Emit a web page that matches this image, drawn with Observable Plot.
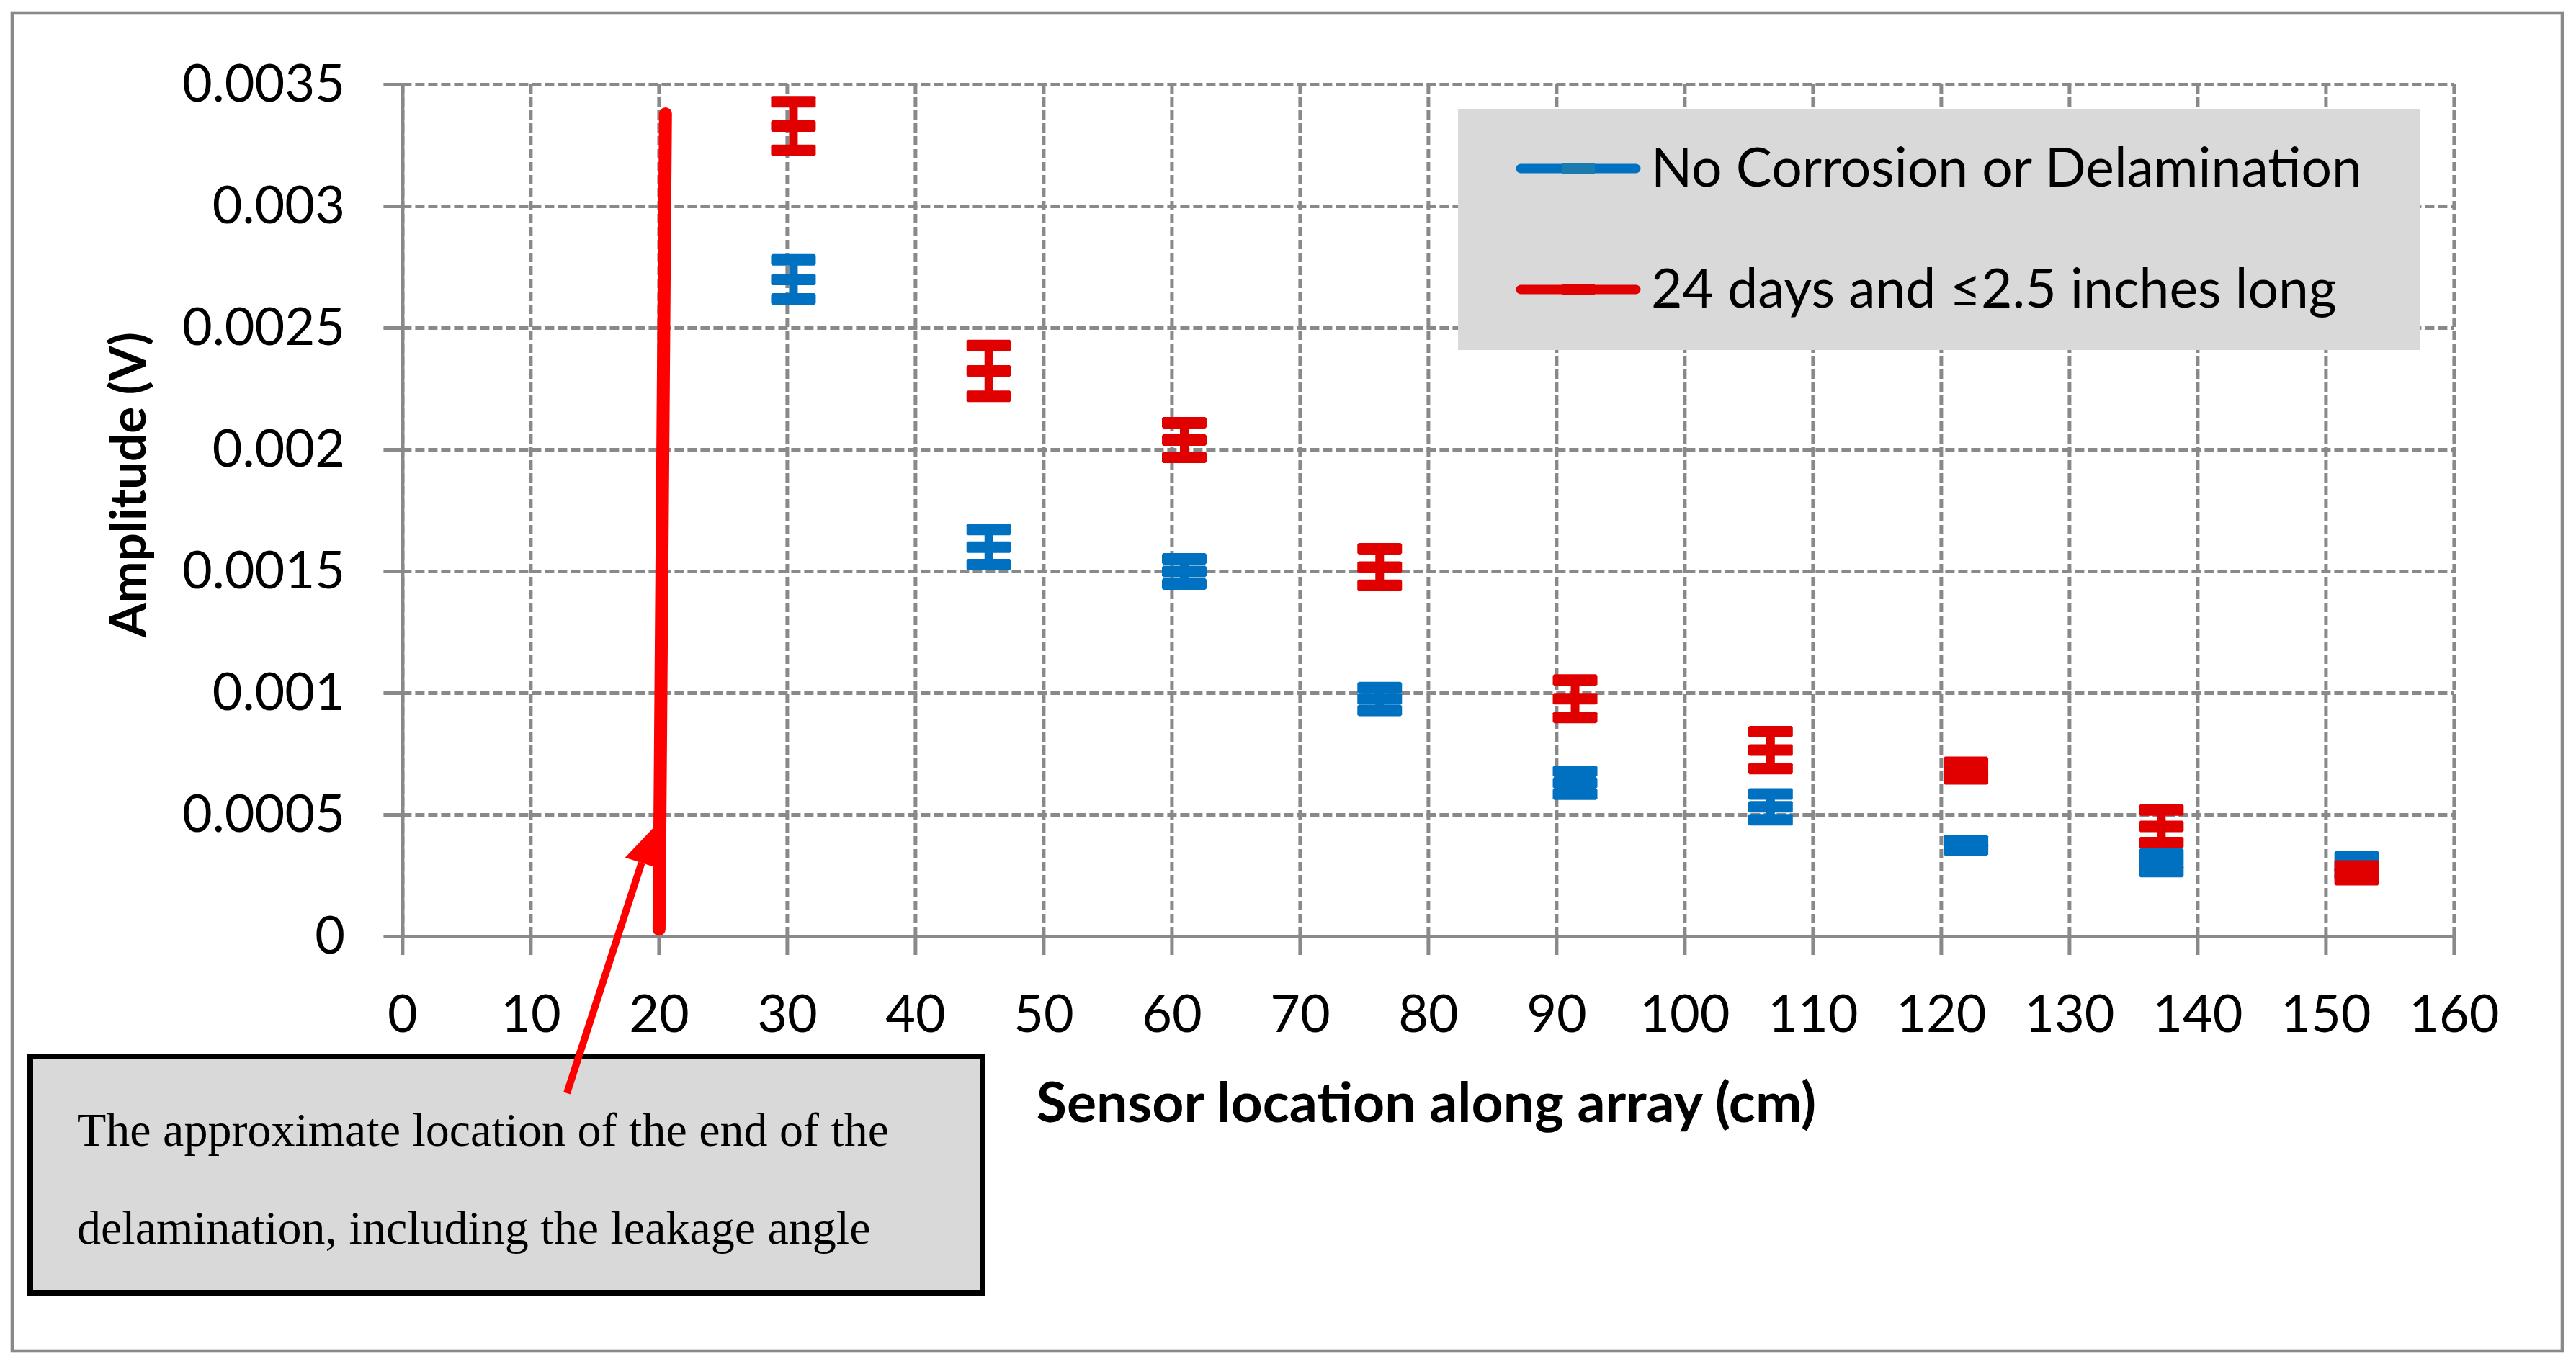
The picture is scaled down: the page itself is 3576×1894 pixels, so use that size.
<!DOCTYPE html>
<html>
<head>
<meta charset="utf-8">
<script src="https://cdn.jsdelivr.net/npm/d3@7"></script>
<script src="https://cdn.jsdelivr.net/npm/@observablehq/plot@0.6"></script>
<style>
html, body { margin: 0; padding: 0; background: #fff; overflow: hidden; }
#chart svg { display: block; }
</style>
</head>
<body>
<div id="chart"></div>
<script>
// ---- data ----
const sensorCm = [30.48, 45.72, 60.96, 76.2, 91.44, 106.68, 121.92, 137.16, 152.4];
const noCorrosion    = [0.00270, 0.00160, 0.00150, 0.000976, 0.000632, 0.000533, 0.000375, 0.000303, 0.000293];
const noCorrosionErr = [0.00008, 0.000072, 0.000052, 0.000047, 0.000047, 0.000053, 0.000019, 0.000036, 0.000035];
const delam24        = [0.00333, 0.002324, 0.00204, 0.001518, 0.000977, 0.000766, 0.000682, 0.000453, 0.000262];
const delam24Err     = [0.0001, 0.000104, 0.000071, 0.000075, 0.000077, 0.000076, 0.000034, 0.000067, 0.000028];
const seriesNames = ["No Corrosion or Delamination", "24 days and \u22642.5 inches long"];
const seriesColors = ["#0070C0", "#E00000"];
const xTicks = [0, 10, 20, 30, 40, 50, 60, 70, 80, 90, 100, 110, 120, 130, 140, 150, 160];
const yTicks = [0, 0.0005, 0.001, 0.0015, 0.002, 0.0025, 0.003, 0.0035];
const xLabel = "Sensor location along array (cm)";
const yLabel = "Amplitude (V)";
const annotationLines = ["The approximate location of the end of the", "delamination, including the leakage angle"];
const boundaryX = [20.5, 20.0];
const boundaryY = [0.00338, 0.00003];
const arrowX = [12.84, 19.53];
const arrowY = [-0.000645, 0.000442];

// ---- build rows ----
function rows(vals, errs, s) {
  return sensorCm.map((x, i) => ({x, y: vals[i], lo: vals[i] - errs[i], hi: vals[i] + errs[i], s}));
}
const blueRows = rows(noCorrosion, noCorrosionErr, 0);
const redRows = rows(delam24, delam24Err, 1);
const boundary = boundaryX.map((x, i) => ({x, y: boundaryY[i]}));

// dash-shaped marker (Excel "dash" marker / error-bar cap)
const dash = {
  draw(ctx) {
    const w = 31, h = 8, r = 2;
    ctx.moveTo(-w + r, -h); ctx.lineTo(w - r, -h); ctx.lineTo(w, -h + r); ctx.lineTo(w, h - r);
    ctx.lineTo(w - r, h); ctx.lineTo(-w + r, h); ctx.lineTo(-w, h - r); ctx.lineTo(-w, -h + r); ctx.closePath();
  }
};

const gridStyle = {stroke: "#898989", strokeOpacity: 1, strokeWidth: 5, strokeDasharray: "13,5"};

function seriesMarks(data, color) {
  return [
    Plot.ruleX(data, {x: "x", y1: "lo", y2: "hi", stroke: color, strokeWidth: 12}),
    Plot.dot(data, {x: "x", y: "lo", symbol: dash, fill: color, stroke: null}),
    Plot.dot(data, {x: "x", y: "hi", symbol: dash, fill: color, stroke: null}),
    Plot.dot(data, {x: "x", y: "y", symbol: dash, fill: color, stroke: null})
  ];
}

const W = 3576, H = 1894;
const plot = Plot.plot({
  width: W,
  height: H,
  marginLeft: 558.4,
  marginRight: W - 3406.4,
  marginTop: 117,
  marginBottom: H - 1300,
  x: {domain: [0, 160]},
  y: {domain: [0, 0.0035]},
  style: {fontFamily: "Lato, sans-serif", fontSize: "72px", background: "white", color: "black", overflow: "visible"},
  marks: [
    Plot.gridY(yTicks, gridStyle),
    Plot.gridX(xTicks, gridStyle),
    Plot.ruleY([0], {stroke: "#898989", strokeWidth: 5}),
    Plot.ruleX([0], {stroke: "#898989", strokeWidth: 5}),
    Plot.axisY(yTicks, {tickSize: 26, tickPadding: 54, stroke: "#898989", strokeWidth: 5, fill: "black",
      tickFormat: d => String(d), fontSize: 72, label: null}),
    Plot.axisX(xTicks, {tickSize: 26, tickPadding: 55, stroke: "#898989", strokeWidth: 5, fill: "black",
      tickFormat: d => String(d), fontSize: 72, label: null}),
    Plot.line(boundary, {x: "x", y: "y", stroke: "#FF0000", strokeWidth: 18}),
    ...seriesMarks(blueRows, seriesColors[0]),
    ...seriesMarks(redRows, seriesColors[1])
  ]
});

document.getElementById("chart").appendChild(plot);

// ---- overlay: frame, legend, axis titles, annotation ----
const sx = plot.scale("x"), sy = plot.scale("y");
const X = d3.scaleLinear(sx.domain, sx.range);
const Y = d3.scaleLinear(sy.domain, sy.range);
const svg = d3.select(plot);

svg.append("rect").attr("x", 17).attr("y", 18).attr("width", 3540).attr("height", 1858)
  .attr("fill", "none").attr("stroke", "#898989").attr("stroke-width", 4.6);

// legend
const lg = svg.append("g").attr("text-anchor", "start");
lg.append("rect").attr("x", 2024).attr("y", 151).attr("width", 1336).attr("height", 335).attr("fill", "#D9D9D9");
[234, 402].forEach((cy, i) => {
  lg.append("line").attr("x1", 2111).attr("x2", 2271).attr("y1", cy).attr("y2", cy)
    .attr("stroke", seriesColors[i]).attr("stroke-width", 13).attr("stroke-linecap", "round");
  lg.append("rect").attr("x", 2168).attr("y", cy - 7).attr("width", 46).attr("height", 14)
    .attr("fill", i === 0 ? "#1B7AAE" : seriesColors[i]);
  lg.append("text").attr("x", 2292).attr("y", cy + 25).attr("text-anchor", "start").text(seriesNames[i])
    .attr("font-family", "Lato, sans-serif").attr("font-size", 75).attr("fill", "black");
});

// axis titles
svg.append("text").attr("x", 1980).attr("y", 1558).attr("text-anchor", "middle")
  .attr("font-family", "Lato, sans-serif").attr("font-weight", "bold").attr("font-size", 77).attr("fill", "black")
  .text(xLabel);
svg.append("text").attr("transform", "translate(202,673) rotate(-90)").attr("text-anchor", "middle")
  .attr("font-family", "Lato, sans-serif").attr("font-weight", "bold").attr("font-size", 69).attr("fill", "black")
  .text(yLabel);

// annotation box
svg.append("rect").attr("x", 42).attr("y", 1467).attr("width", 1322).attr("height", 328)
  .attr("fill", "#D9D9D9").attr("stroke", "black").attr("stroke-width", 8);
annotationLines.forEach((t, i) => {
  svg.append("text").attr("x", 107).attr("y", 1591 + i * 136).attr("text-anchor", "start").text(t)
    .attr("font-family", "'Liberation Serif', 'Times New Roman', serif").attr("font-size", 66).attr("fill", "black");
});

// arrow from box to boundary line
const tail = [X(arrowX[0]), Y(arrowY[0])];
const tip = [X(arrowX[1]), Y(arrowY[1])];
const dx = tip[0] - tail[0], dy = tip[1] - tail[1];
const len = Math.hypot(dx, dy);
const ux = dx / len, uy = dy / len;
const headLen = 50, headHalf = 24;
const base = [tip[0] - headLen * ux, tip[1] - headLen * uy];
svg.append("line").attr("x1", tail[0]).attr("y1", tail[1]).attr("x2", base[0]).attr("y2", base[1])
  .attr("stroke", "#FF0000").attr("stroke-width", 10);
svg.append("polygon").attr("fill", "#FF0000").attr("points", [
  tip,
  [base[0] - headHalf * uy, base[1] + headHalf * ux],
  [base[0] + headHalf * uy, base[1] - headHalf * ux]
].map(p => p.join(",")).join(" "));
</script>
</body>
</html>
